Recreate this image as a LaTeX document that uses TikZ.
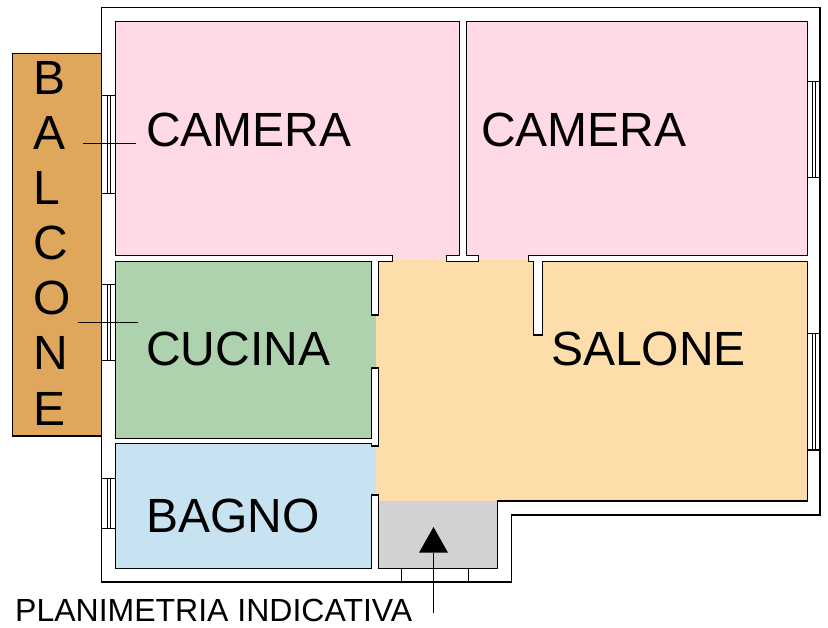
\documentclass[tikz,border=0pt]{standalone}
\usepackage{fontspec}
\setmainfont{Liberation Sans}
\definecolor{camerapink}{HTML}{FFD9E3}
\definecolor{cucinagreen}{HTML}{AED2AE}
\definecolor{bagnoblue}{HTML}{C7E2F0}
\definecolor{salonepeach}{HTML}{FDDDAA}
\definecolor{balconebrown}{HTML}{DEA75C}
\definecolor{ingressogrey}{HTML}{D2D2D2}
\tikzset{
    wall/.style={line width=1.2pt,line join=miter},
    thinline/.style={line width=0.9pt},
    roomlabel/.style={inner sep=0pt,anchor=base west,font=\fontsize{48}{50}\selectfont},
}
\begin{document}
\begin{tikzpicture}[x=1pt,y=-1pt]
        \useasboundingbox (0,0) rectangle (828,628);
        %% Rooms
        \fill[camerapink] (115.5,21.5) -- (459.5,21.5) -- (459.5,255.3) -- (446.3,255.3) -- (446.3,259.5) -- (392.7,259.5) -- (392.7,255.3) -- (115.5,255.3) -- cycle;
        \fill[camerapink] (466.5,21.5) -- (807.5,21.5) -- (807.5,255.3) -- (528.3,255.3) -- (528.3,259.5) -- (478.7,259.5) -- (478.7,255.3) -- (466.5,255.3) -- cycle;
        \fill[cucinagreen] (115.5,261.7) -- (371.5,261.7) -- (371.5,315) -- (376,315) -- (376,368) -- (371.5,368) -- (371.5,438.5) -- (115.5,438.5) -- cycle;
        \fill[bagnoblue] (115.5,443.5) -- (371.5,443.5) -- (371.5,446) -- (376,446) -- (376,495) -- (371.5,495) -- (371.5,568.5) -- (115.5,568.5) -- cycle;
        \fill[salonepeach] (376,315) -- (378.7,315) -- (378.7,261.7) -- (392.7,261.7) -- (392.7,259.5) -- (446.3,259.5) -- (446.3,261.7) -- (478.7,261.7) -- (478.7,259.5) -- (528.3,259.5) -- (528.3,261.7) -- (533.3,261.7) -- (533.3,335) -- (542.7,335) -- (542.7,261.7) -- (807.5,261.7) -- (807.5,501) -- (378.7,501) -- (378.7,495) -- (376,495) -- (376,446) -- (378.7,446) -- (378.7,368) -- (376,368) -- cycle;
        \fill[ingressogrey] (378.7,501) rectangle (497.5,568.5);
        \draw[wall,fill=balconebrown] (12.5,53.5) rectangle (101.5,436);
        %% Walls
        \draw[wall] (101.5,7.5) -- (820,7.5) -- (820,515) -- (511.5,515) -- (511.5,582) -- (101.5,582) -- cycle;
        \draw[wall] (392.7,255.3) -- (115.5,255.3) -- (115.5,21.5) -- (459.5,21.5) -- (459.5,255.3) -- (446.3,255.3) -- (446.3,261.7) -- (478.7,261.7) -- (478.7,255.3) -- (466.5,255.3) -- (466.5,21.5) -- (807.5,21.5) -- (807.5,255.3) -- (528.3,255.3) -- (528.3,261.7) -- (533.3,261.7) -- (533.3,335) -- (542.7,335) -- (542.7,261.7) -- (807.5,261.7) -- (807.5,501) -- (497.5,501) -- (497.5,568.5) -- (378.7,568.5) -- (378.7,495) -- (371.5,495) -- (371.5,568.5) -- (115.5,568.5) -- (115.5,443.5) -- (371.5,443.5) -- (371.5,446) -- (378.7,446) -- (378.7,368) -- (371.5,368) -- (371.5,438.5) -- (115.5,438.5) -- (115.5,261.7) -- (371.5,261.7) -- (371.5,315) -- (378.7,315) -- (378.7,261.7) -- (392.7,261.7) -- cycle;
        %% Windows
        \foreach \ya/\yb in {95.5/193.5,284.3/360.7,478.3/528.3} {
            \draw[wall] (101.5,\ya) -- (115.5,\ya) (101.5,\yb) -- (115.5,\yb);
            \draw[thinline] (107,\ya) -- (107,\yb) (110.5,\ya) -- (110.5,\yb);
        }
        \foreach \ya/\yb in {81.3/177.3,333.3/450} {
            \draw[wall] (807.5,\ya) -- (820,\ya) (807.5,\yb) -- (820,\yb);
            \draw[thinline] (812.3,\ya) -- (812.3,\yb) (815.3,\ya) -- (815.3,\yb);
        }
        %% Entrance
        \draw[thinline] (401.7,568.5) -- (401.7,582) (468.3,568.5) -- (468.3,582);
        \coordinate (T) at (433.5,552.7);
        \coordinate (E) at (433.5,613);
        \fill (419,552.7) -- (433.5,527) -- (448,552.7) -- cycle;
        \draw[thinline] (T) -- (E);
        %% Section marks
        \coordinate (S1) at (83,143.3);
        \coordinate (S2) at (136,143.3);
        \coordinate (S3) at (78,322.3);
        \coordinate (S4) at (138,322.3);
        \draw[thinline] (S1) -- (S2);
        \draw[thinline] (S3) -- (S4);
        %% Labels
        \node[roomlabel] (camera1) at (146,147) {CAMERA};
        \node[roomlabel] (camera2) at (481,147) {CAMERA};
        \node[roomlabel] (cucina) at (146,366) {CUCINA};
        \node[roomlabel] (bagno) at (146,532) {BAGNO};
        \node[roomlabel] (salone) at (551,366) {SALONE};
        \foreach \letter [count=\i] in {B,A,L,C,O,N,E} {
            \node[roomlabel] (balcone\i) at (33,40+55*\i) {\letter};
        }
        \node[inner sep=0pt,anchor=base west,font=\fontsize{32}{34}\selectfont] (titolo) at (15,621.5) {PLANIMETRIA INDICATIVA};
    \end{tikzpicture}
\end{document}
